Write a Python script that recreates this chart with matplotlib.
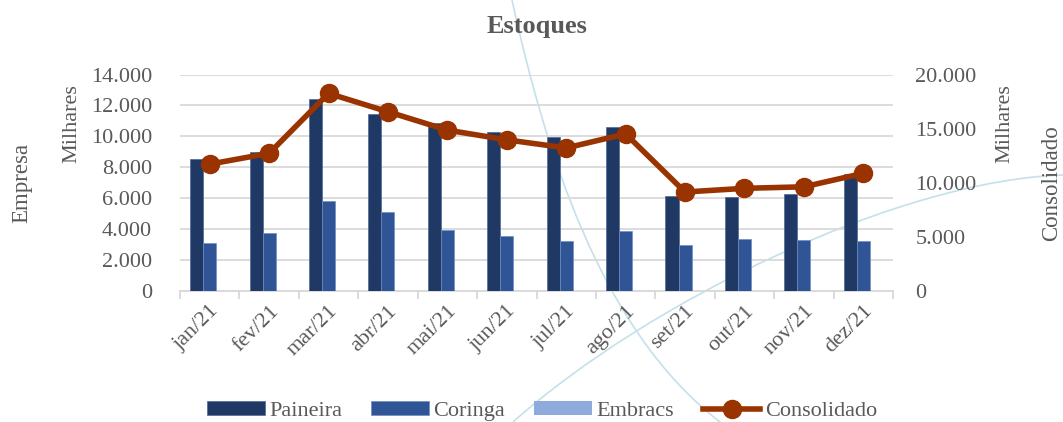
import numpy as np
import matplotlib.pyplot as plt
from matplotlib.path import Path
from matplotlib.patches import PathPatch
from matplotlib.ticker import FuncFormatter, FixedLocator

fonts = ['Liberation Serif', 'DejaVu Serif']
plt.rcParams['font.family'] = fonts

# values in thousands
months = ['jan/21', 'fev/21', 'mar/21', 'abr/21', 'mai/21', 'jun/21',
          'jul/21', 'ago/21', 'set/21', 'out/21', 'nov/21', 'dez/21']
paineira = [8500, 9000, 12400, 11450, 10850, 10270, 9950, 10570, 6140, 6070, 6250, 7550]
coringa = [3080, 3710, 5790, 5100, 3930, 3560, 3190, 3880, 2930, 3320, 3300, 3230]
embracs = [0] * 12
consolidado = [11700, 12700, 18250, 16550, 14850, 13950, 13200, 14500, 9120, 9460, 9600, 10850]

txt = '#595959'
grid_c = '#d9d9d9'
W, H = 1063, 422

fig = plt.figure(figsize=(W / 100, H / 100), dpi=100)

# background decoration (slide template arcs)
bg = fig.add_axes([0, 0, 1, 1])
bg.set_xlim(0, W)
bg.set_ylim(H, 0)
bg.axis('off')
bg.set_zorder(-1)
arcs = [
    [(512, 0), (545, 150), (600, 330), (720, 422)],
    [(513, 422), (650, 300), (900, 180), (1063, 175)],
]
for pts in arcs:
    p = Path(pts, [Path.MOVETO, Path.CURVE4, Path.CURVE4, Path.CURVE4])
    bg.add_patch(PathPatch(p, fill=False, edgecolor='#c5e0ea', lw=1.2))

ax = fig.add_axes([180 / W, 1 - 290.5 / H, 713 / W, 216 / H])
ax.set_facecolor('none')
x = np.arange(len(months))
w = 0.22
ax.bar(x - w, paineira, w, color='#1f3864', edgecolor='#4a6a9a', lw=0.5, label='Paineira', zorder=3)
ax.bar(x, coringa, w, color='#2f5597', edgecolor='#6f8fc4', lw=0.5, label='Coringa', zorder=3)
ax.bar(x + w, embracs, w, color='#8faadc', label='Embracs', zorder=3)

ax.set_xlim(-0.5, len(months) - 0.5)
ax.set_ylim(0, 14000)
ax.set_yticks(np.arange(0, 14001, 2000))
fmt = FuncFormatter(lambda v, p: f'{int(v):,}'.replace(',', '.'))
ax.yaxis.set_major_formatter(fmt)
ax.grid(axis='y', color=grid_c, lw=1.3, zorder=0)
ax.set_axisbelow(True)
for s in ['left', 'right', 'top']:
    ax.spines[s].set_visible(False)
ax.spines['bottom'].set_color(grid_c)
ax.spines['bottom'].set_linewidth(1.3)
ax.set_xticks(x)
ax.set_xticklabels(months, rotation=45, ha='right', rotation_mode='anchor')
ax.xaxis.set_minor_locator(FixedLocator(np.arange(-0.5, len(months), 1)))
ax.tick_params(axis='x', which='major', length=0, pad=8, labelsize=16, labelcolor=txt)
ax.tick_params(axis='x', which='minor', length=6, width=1.3, color=grid_c)
ax.tick_params(axis='y', length=0, pad=20, labelsize=16, labelcolor=txt)

ax2 = ax.twinx()
ax2.plot(x, consolidado, color='#993300', lw=4, marker='o', ms=13, label='Consolidado', zorder=5)
ax2.set_ylim(0, 20000)
ax2.set_yticks(np.arange(0, 20001, 5000))
ax2.yaxis.set_major_formatter(fmt)
for s in ax2.spines.values():
    s.set_visible(False)
ax2.tick_params(axis='y', length=0, pad=16, labelsize=16, labelcolor=txt)

fig.text(537 / W, 1 - 27 / H, 'Estoques', ha='center', va='center',
         fontsize=19, fontweight='bold', color=txt)
fig.text(22 / W, 1 - 183 / H, 'Empresa', rotation=90, ha='center', va='center', fontsize=16.5, color=txt)
fig.text(72 / W, 1 - 124 / H, 'Milhares', rotation=90, ha='center', va='center', fontsize=16, color=txt)
fig.text(1005 / W, 1 - 124 / H, 'Milhares', rotation=90, ha='center', va='center', fontsize=16, color=txt)
fig.text(1052 / W, 1 - 183 / H, 'Consolidado', rotation=90, ha='center', va='center', fontsize=16.5, color=txt)

h1, l1 = ax.get_legend_handles_labels()
h2, l2 = ax2.get_legend_handles_labels()
leg = fig.legend(h1 + h2, l1 + l2, loc='center', bbox_to_anchor=(542 / W, 1 - 411 / H),
                 ncol=4, frameon=False, prop={'family': fonts, 'size': 16},
                 handlelength=2.6, handleheight=0.55,
                 columnspacing=1.3, handletextpad=0.2, labelcolor=txt)

fig.savefig('out.png', dpi=100)
